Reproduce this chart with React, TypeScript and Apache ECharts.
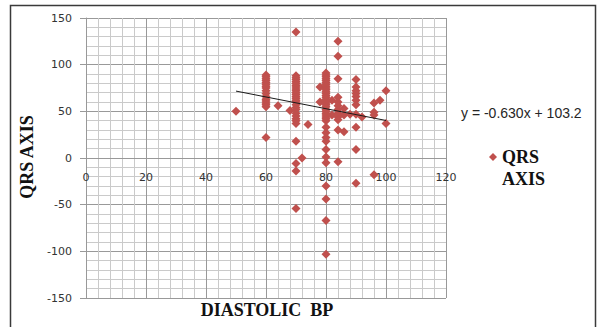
import { useEffect, useRef } from "react";
import * as echarts from "echarts";

// Diastolic BP levels (x) and the QRS axis values read at each level (y)
const bpLevels = [50, 60, 64, 68, 70, 72, 74, 78, 80, 82, 84, 86, 88, 90, 92, 96, 98, 100];
const qrsAtLevel: number[][] = [
  [50],
  [89, 87, 85, 83, 81, 79, 77, 75, 72, 69, 66, 63, 61, 59, 57, 55, 22],
  [56],
  [51],
  [135, 88, 86, 84, 82, 80, 78, 76, 74, 72, 70, 68, 66, 64, 62, 60, 57, 54, 52, 48, 45, 42, 40, 37, 18, -6, -14, -54],
  [0],
  [36],
  [76, 60],
  [91, 89, 87, 85, 83, 81, 79, 77, 75, 73, 71, 69, 67, 65, 63, 61, 59, 57, 55, 52, 50, 48, 46, 44, 42, 40, 33, 27, 22, 18, 9, 1, -5, -30, -44, -67, -103],
  [62, 46],
  [125, 109, 85, 65, 60, 56, 52, 48, 44, 41, 30, -4],
  [53, 46, 28],
  [47],
  [84, 76, 72, 69, 66, 62, 57, 47, 33, 9, -27],
  [44],
  [59, 49, 46, -18],
  [62],
  [72, 37],
];

// Linear trendline: y = -0.630x + 103.2 over the observed BP range
const trendSlope = -0.63;
const trendIntercept = 103.2;
const trendRange = [50, 100];
const trendLabel = "y = -0.630x + 103.2";

const seriesName = "QRS AXIS";
const xTitle = "DIASTOLIC  BP";
const yTitle = "QRS AXIS";

const GRID_TOP = 18;
const GRID_HEIGHT = 280;

export default function App() {
  const ref = useRef<HTMLDivElement>(null);
  useEffect(() => {
    if (!ref.current) return;
    const chart = echarts.init(ref.current, null, { renderer: "svg" });
    const points: number[][] = [];
    bpLevels.forEach((bp, i) => qrsAtLevel[i].forEach((q) => points.push([bp, q])));
    const trend = trendRange.map((x) => [x, +(trendSlope * x + trendIntercept).toFixed(2)]);
    const red = "#C0504D";
    const serif = "'Liberation Serif', 'Times New Roman', serif";
    const sans = "'DejaVu Sans', Verdana, sans-serif";
    const yMin = -150;
    const yMax = 150;
    // move the x axis (line and labels) up to y = 0, as in the reference
    const xOffset = -GRID_HEIGHT * ((0 - yMin) / (yMax - yMin));
    chart.setOption({
      animation: false,
      backgroundColor: "#ffffff",
      grid: { left: 86, top: GRID_TOP, width: 360, height: GRID_HEIGHT, containLabel: false },
      xAxis: {
        type: "value",
        min: 0,
        max: 120,
        interval: 20,
        offset: xOffset,
        axisLine: { show: true, onZero: false, lineStyle: { color: "#999", width: 1 } },
        axisTick: { show: false },
        axisLabel: { margin: 14, fontSize: 11, color: "#333", fontFamily: sans },
        splitLine: { show: true, lineStyle: { color: "#999", width: 1 } },
        minorTick: { show: false, splitNumber: 5 },
        minorSplitLine: { show: true, lineStyle: { color: "#cacaca", width: 1 } },
      },
      yAxis: {
        type: "value",
        min: yMin,
        max: yMax,
        interval: 50,
        axisLine: { show: true, onZero: false, lineStyle: { color: "#999", width: 1 } },
        axisTick: { show: true, length: 6, lineStyle: { color: "#999" } },
        axisLabel: { margin: 14, fontSize: 11, color: "#333", fontFamily: sans },
        splitLine: { show: true, lineStyle: { color: "#999", width: 1 } },
        minorTick: { show: false, splitNumber: 5 },
        minorSplitLine: { show: true, lineStyle: { color: "#cacaca", width: 1 } },
      },
      legend: {
        show: true,
        left: 489,
        top: 148,
        padding: 0,
        itemWidth: 8,
        itemHeight: 8,
        itemGap: 0,
        data: [{ name: seriesName, icon: "diamond" }],
        formatter: () => "QRS",
        textStyle: { fontFamily: serif, fontWeight: "bold", fontSize: 18, lineHeight: 18, color: "#111", padding: [0, 0, 0, 0] },
      },
      graphic: [
        {
          type: "rect",
          silent: true,
          shape: { x: 10.5, y: 5.5, width: 585, height: 340 },
          style: { fill: "none", stroke: "#3a3a3a", lineWidth: 1.5 },
        },
        {
          type: "text",
          x: 502,
          y: 179,
          style: { text: "AXIS", fontFamily: serif, fontWeight: "bold", fontSize: 18, fill: "#111", textAlign: "left", textVerticalAlign: "middle" },
        },
        {
          type: "text",
          x: 461,
          y: 113,
          style: { text: trendLabel, fontFamily: "'Liberation Sans', Arial, sans-serif", fontSize: 14, fill: "#262626", textAlign: "left", textVerticalAlign: "middle" },
        },
        {
          type: "text",
          x: 267,
          y: 310,
          style: { text: xTitle, fontFamily: serif, fontWeight: "bold", fontSize: 18, fill: "#111", textAlign: "center", textVerticalAlign: "middle" },
        },
        {
          type: "text",
          x: 27,
          y: 157,
          rotation: Math.PI / 2,
          style: { text: yTitle, fontFamily: serif, fontWeight: "bold", fontSize: 18, fill: "#111", textAlign: "center", textVerticalAlign: "middle" },
        },
      ],
      series: [
        {
          name: seriesName,
          type: "scatter",
          symbol: "diamond",
          symbolSize: 9,
          itemStyle: { color: red, opacity: 1 },
          data: points,
          z: 3,
        },
        {
          name: "trend",
          type: "line",
          data: trend,
          showSymbol: false,
          symbol: "none",
          lineStyle: { color: "#1a1a1a", width: 1 },
          z: 4,
          silent: true,
        },
      ],
    });
    return () => chart.dispose();
  }, []);
  return (
    <div
      ref={ref}
      style={{ position: "fixed", left: 0, top: 0, width: 604, height: 327, background: "#fff" }}
    />
  );
}
